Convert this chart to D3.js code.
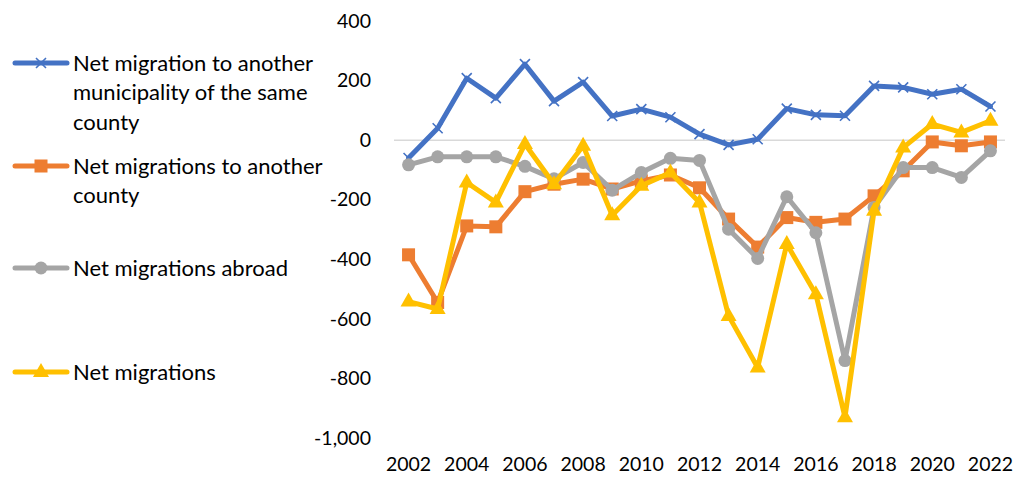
<!DOCTYPE html>
<meta charset="utf-8">
<style>
body { margin: 0; background: #fff; }
text { font-family: Lato, "Open Sans", sans-serif; fill: #000; }
.tick text { font-size: 19.5px; }
.legend text { font-size: 22px; }
</style>
<svg width="1017" height="479"></svg>
<script src="https://d3js.org/d3.v7.min.js"></script>
<script>

var years = d3.range(2002, 2023);
var xTickYears = [2002, 2004, 2006, 2008, 2010, 2012, 2014, 2016, 2018, 2020, 2022];
var yTicks = [400, 200, 0, -200, -400, -600, -800, -1000];

var sameCounty = [-60, 40, 208, 141, 255, 131, 195, 81, 104, 77, 20, -16, 3, 106, 85, 82, 182, 177, 154, 171, 113];
var otherCounty = [-385, -545, -288, -291, -173, -148, -131, -164, -137, -117, -160, -265, -359, -260, -276, -265, -187, -103, -6, -19, -6];
var abroad = [-83, -56, -56, -56, -88, -130, -75, -168, -109, -61, -68, -299, -397, -190, -311, -740, -226, -92, -92, -125, -36];
var netTotal = [-542, -567, -142, -209, -13, -148, -19, -252, -153, -109, -209, -590, -763, -349, -517, -930, -237, -25, 54, 26, 65];

var series = [
  {name: ["Net migration to another", "municipality of the same", "county"], values: sameCounty, color: "#4472C4", marker: "x", ly: 63},
  {name: ["Net migrations to another", "county"], values: otherCounty, color: "#ED7D31", marker: "square", ly: 166},
  {name: ["Net migrations abroad"], values: abroad, color: "#A5A5A5", marker: "circle", ly: 268},
  {name: ["Net migrations"], values: netTotal, color: "#FFC000", marker: "triangle", ly: 372}
];

var svg = d3.select("svg");

var x = d3.scaleBand().domain(years).range([394, 1005]);
var y = d3.scaleLinear().domain([-1000, 400]).range([438, 21]);
var cx = function(d) { return x(d) + x.bandwidth() / 2; };

// zero line
svg.append("line")
    .attr("x1", 394).attr("x2", 1005)
    .attr("y1", y(0)).attr("y2", y(0))
    .attr("stroke", "#d9d9d9").attr("stroke-width", 1.5);

var comma = d3.format(",");
var fmt = function(d) { return comma(d).replace("\u2212", "-"); };
var yAxis = svg.append("g")
    .attr("transform", "translate(375,0)")
    .call(d3.axisLeft(y).tickValues(yTicks).tickSize(0).tickPadding(4).tickFormat(fmt));
yAxis.select(".domain").remove();

var xAxis = svg.append("g")
    .attr("transform", "translate(0,453)")
    .call(d3.axisBottom(x).tickValues(xTickYears).tickSize(0).tickPadding(4));
xAxis.select(".domain").remove();

function drawMarker(g, type, color) {
  if (type === "x") {
    g.append("path").attr("d", "M-5,-5L5,5M-5,5L5,-5")
        .attr("stroke", color).attr("stroke-width", 1.6).attr("fill", "none");
  } else if (type === "square") {
    g.append("rect").attr("x", -6.5).attr("y", -6.5).attr("width", 13).attr("height", 13).attr("fill", color);
  } else if (type === "circle") {
    g.append("circle").attr("r", 6.5).attr("fill", color);
  } else {
    g.append("path").attr("d", "M0,-9L8,5L-8,5Z").attr("fill", color);
  }
}

var line = d3.line()
    .x(function(d, i) { return cx(years[i]); })
    .y(function(d) { return y(d); });

series.forEach(function(s) {
  svg.append("path")
      .attr("d", line(s.values))
      .attr("fill", "none")
      .attr("stroke", s.color)
      .attr("stroke-width", 5)
      .attr("stroke-linejoin", "round")
      .attr("stroke-linecap", "round");
  s.values.forEach(function(v, i) {
    var g = svg.append("g").attr("transform", "translate(" + cx(years[i]) + "," + y(v) + ")");
    drawMarker(g, s.marker, s.color);
  });
});

// legend
var legend = svg.append("g").attr("class", "legend");
series.forEach(function(s) {
  legend.append("line")
      .attr("x1", 15).attr("x2", 67)
      .attr("y1", s.ly).attr("y2", s.ly)
      .attr("stroke", s.color).attr("stroke-width", 5).attr("stroke-linecap", "round");
  drawMarker(legend.append("g").attr("transform", "translate(41," + s.ly + ")"), s.marker, s.color);
  s.name.forEach(function(t, k) {
    legend.append("text")
        .attr("x", 73)
        .attr("y", s.ly + k * 29.5)
        .attr("dy", "0.35em")
        .text(t);
  });
});

</script>
